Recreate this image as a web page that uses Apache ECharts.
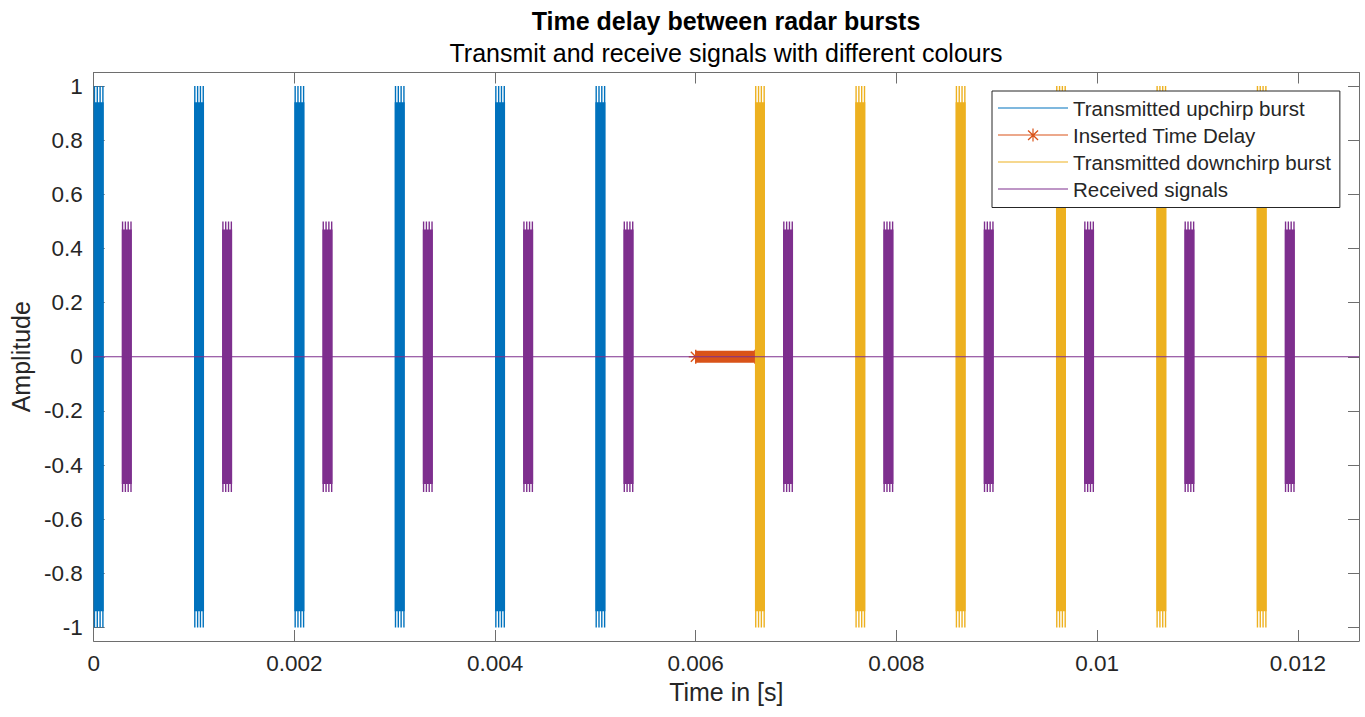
<!DOCTYPE html>
<html>
<head>
<meta charset="utf-8">
<script src="https://cdn.jsdelivr.net/npm/echarts@6/dist/echarts.min.js"></script>
<style>
  html, body { margin: 0; padding: 0; background: #fff; }
  #chart { width: 1365px; height: 717px; }
</style>
</head>
<body>
<div id="chart"></div>
<script>
// ---- data ----
const upchirpStarts   = [0, 0.001, 0.002, 0.003, 0.004, 0.005];
const downchirpStarts = [0.00659, 0.00759, 0.00859, 0.00959, 0.01059, 0.01159];
const receivedStarts  = [0.00028, 0.00128, 0.00228, 0.00328, 0.00428, 0.00528,
                         0.00687, 0.00787, 0.00887, 0.00987, 0.01087, 0.01187];
const burstLength = 0.0001;
const txAmplitude = 1;
const rxAmplitude = 0.5;
const delayStart = 0.006;
const delayEnd = 0.00659;
const timeEnd = 0.01261;
const xTickValues = [0, 0.002, 0.004, 0.006, 0.008, 0.01, 0.012];
const xTickLabels = ['0', '0.002', '0.004', '0.006', '0.008', '0.01', '0.012'];
const yTickValues = [-1, -0.8, -0.6, -0.4, -0.2, 0, 0.2, 0.4, 0.6, 0.8, 1];
const yTickLabels = ['-1', '-0.8', '-0.6', '-0.4', '-0.2', '0', '0.2', '0.4', '0.6', '0.8', '1'];
const seriesNames = ['Transmitted upchirp burst', 'Inserted Time Delay', 'Transmitted downchirp burst', 'Received signals'];

// ---- styling ----
const C_BLUE = '#0072BD', C_ORANGE = '#D95319', C_YELLOW = '#EDB120', C_PURPLE = '#7E2F8E';
const FONT = '"Liberation Sans", Arial, Helvetica, sans-serif';
const AXIS_COLOR = '#6e6e6e', TEXT_COLOR = '#262626';

const upData = upchirpStarts.map(s => [s, s + burstLength, txAmplitude]);
const downData = downchirpStarts.map(s => [s, s + burstLength, txAmplitude]);
const rxData = receivedStarts.map(s => [s, s + burstLength, rxAmplitude]);

function burstRenderer(color) {
  return function (params, api) {
    const s = api.value(0), e = api.value(1), a = api.value(2);
    const top = api.coord([s, a]);
    const bot = api.coord([e, -a]);
    const bTop = api.coord([s, a * 0.94]);
    const bBot = api.coord([s, -a * 0.94]);
    const x0 = top[0], w = bot[0] - top[0];
    const children = [{
      type: 'rect',
      shape: { x: x0, y: bTop[1], width: w, height: bBot[1] - bTop[1] },
      style: { fill: color }
    }];
    [0.08, 0.36, 0.64, 0.92].forEach(f => {
      children.push({
        type: 'line',
        shape: { x1: x0 + f * w, y1: top[1], x2: x0 + f * w, y2: bot[1] },
        style: { stroke: color, lineWidth: 1.4 }
      });
    });
    return { type: 'group', children };
  };
}

const lineIcon = 'path://M0,0L0.01,0L0.01,0.01Z M0,6.5L70,6.5L70,7.5L0,7.5Z M0,14L0.01,14L0.01,13.99Z';
const starLineIcon = 'path://M0,0L0.01,0L0.01,0.01Z M0,6.5L70,6.5L70,7.5L0,7.5Z M34.4,0.5L35.6,0.5L35.6,13.5L34.4,13.5Z ' +
  'M30.5,2L40.5,11.6L39.6,12.5L29.6,2.9Z M40.5,2.9L30.5,12.5L29.6,11.6L39.6,2Z M0,14L0.01,14L0.01,13.99Z';
const starSymbol = 'path://M-1,-10L1,-10L1,10L-1,10Z M-10,-1L10,-1L10,1L-10,1Z ' +
  'M-6.3,-7.7L7.7,6.3L6.3,7.7L-7.7,-6.3Z M7.7,-6.3L-6.3,7.7L-7.7,6.3L6.3,-7.7Z';

const chart = echarts.init(document.getElementById('chart'), null, { renderer: 'svg' });

const tickFmt = (vals, labels) => v => {
  for (let i = 0; i < vals.length; i++) if (Math.abs(vals[i] - v) < 1e-9) return labels[i];
  return '';
};

chart.setOption({
  animation: false,
  backgroundColor: '#ffffff',
  textStyle: { fontFamily: FONT },
  title: {
    text: 'Time delay between radar bursts',
    subtext: 'Transmit and receive signals with different colours',
    left: 721,
    top: 3,
    textAlign: 'center',
    itemGap: 7,
    textStyle: { fontFamily: FONT, fontSize: 25, fontWeight: 'bold', color: '#000' },
    subtextStyle: { fontFamily: FONT, fontSize: 25, color: '#000' }
  },
  grid: { left: 92, right: 6, top: 72.5, bottom: 76, containLabel: false },
  legend: {
    orient: 'vertical',
    left: 992,
    top: 91,
    z: 50,
    padding: [6.5, 9, 8, 6],
    itemWidth: 70,
    itemHeight: 14,
    itemGap: 6,
    backgroundColor: '#ffffff',
    borderColor: '#262626',
    borderWidth: 1,
    textStyle: { fontFamily: FONT, fontSize: 20.5, color: TEXT_COLOR },
    data: [
      { name: seriesNames[0], icon: lineIcon, itemStyle: { color: C_BLUE } },
      { name: seriesNames[1], icon: starLineIcon, itemStyle: { color: C_ORANGE } },
      { name: seriesNames[2], icon: lineIcon, itemStyle: { color: C_YELLOW } },
      { name: seriesNames[3], icon: lineIcon, itemStyle: { color: C_PURPLE } }
    ]
  },
  xAxis: [{
    type: 'value', position: 'bottom', min: 0, max: timeEnd,
    name: 'Time in [s]', nameLocation: 'middle', nameGap: 36,
    nameTextStyle: { fontFamily: FONT, fontSize: 25, color: TEXT_COLOR },
    axisLine: { show: true, onZero: false, lineStyle: { color: AXIS_COLOR, width: 1 } },
    axisTick: { show: true, inside: true, length: 11, customValues: xTickValues, lineStyle: { color: AXIS_COLOR } },
    axisLabel: { customValues: xTickValues, formatter: tickFmt(xTickValues, xTickLabels), fontFamily: FONT, fontSize: 22.5, color: TEXT_COLOR, margin: 11 },
    splitLine: { show: false }
  }, {
    type: 'value', position: 'top', min: 0, max: timeEnd,
    axisLine: { show: true, onZero: false, lineStyle: { color: AXIS_COLOR, width: 1 } },
    axisTick: { show: true, inside: true, length: 11, customValues: xTickValues, lineStyle: { color: AXIS_COLOR } },
    axisLabel: { show: false },
    splitLine: { show: false }
  }],
  yAxis: [{
    type: 'value', position: 'left', min: -1.05, max: 1.05,
    name: 'Amplitude', nameLocation: 'middle', nameGap: 58,
    nameTextStyle: { fontFamily: FONT, fontSize: 25, color: TEXT_COLOR },
    axisLine: { show: true, onZero: false, lineStyle: { color: AXIS_COLOR, width: 1 } },
    axisTick: { show: true, inside: true, length: 11, customValues: yTickValues, lineStyle: { color: AXIS_COLOR } },
    axisLabel: { customValues: yTickValues, formatter: tickFmt(yTickValues, yTickLabels), fontFamily: FONT, fontSize: 22.5, color: TEXT_COLOR, margin: 11 },
    splitLine: { show: false }
  }, {
    type: 'value', position: 'right', min: -1.05, max: 1.05,
    axisLine: { show: true, onZero: false, lineStyle: { color: AXIS_COLOR, width: 1 } },
    axisTick: { show: true, inside: true, length: 11, customValues: yTickValues, lineStyle: { color: AXIS_COLOR } },
    axisLabel: { show: false },
    splitLine: { show: false }
  }],
  series: [
    {
      name: seriesNames[0], type: 'custom', xAxisIndex: 0, yAxisIndex: 0,
      renderItem: burstRenderer(C_BLUE), data: upData, clip: true,
      itemStyle: { color: C_BLUE }, encode: { x: [0, 1], y: 2 }, z: 2
    },
    {
      name: seriesNames[1], type: 'line', xAxisIndex: 0, yAxisIndex: 0,
      data: [[delayStart, 0], [delayEnd, 0]],
      symbol: starSymbol, symbolSize: 14, showSymbol: true,
      lineStyle: { color: C_ORANGE, width: 12, cap: 'butt' },
      itemStyle: { color: C_ORANGE }, z: 3
    },
    {
      name: seriesNames[2], type: 'custom', xAxisIndex: 0, yAxisIndex: 0,
      renderItem: burstRenderer(C_YELLOW), data: downData, clip: true,
      itemStyle: { color: C_YELLOW }, encode: { x: [0, 1], y: 2 }, z: 4
    },
    {
      name: seriesNames[3], type: 'custom', xAxisIndex: 0, yAxisIndex: 0,
      renderItem: burstRenderer(C_PURPLE), data: rxData, clip: true,
      itemStyle: { color: C_PURPLE }, encode: { x: [0, 1], y: 2 }, z: 5
    },
    {
      name: seriesNames[3], type: 'line', xAxisIndex: 0, yAxisIndex: 0,
      data: [[0, 0], [timeEnd, 0]], symbol: 'none',
      lineStyle: { color: C_PURPLE, width: 1.2 }, itemStyle: { color: C_PURPLE }, z: 6
    }
  ]
});
</script>
</body>
</html>
